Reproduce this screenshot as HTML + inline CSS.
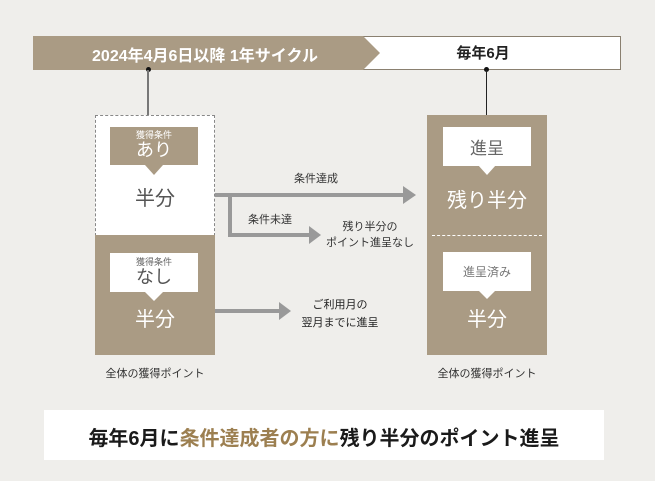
<!DOCTYPE html>
<html><head><meta charset="utf-8"><style>
*{margin:0;padding:0;box-sizing:border-box}
body{width:655px;height:481px;background:#efeeeb;position:relative;overflow:hidden;font-family:"Liberation Sans","Noto Sans CJK JP",sans-serif;color:#333}
.a{position:absolute}
.c{position:absolute;text-align:center;white-space:nowrap}
.br{background:#aa9b84}
.tag{position:absolute;background:#fff;width:88px}
.tri{position:absolute;width:0;height:0;border-left:9px solid transparent;border-right:9px solid transparent}
</style></head><body>
<!-- top bar -->
<div class="a" style="left:33px;top:36px;width:588px;height:34px;background:#fff;border:1px solid #8a8070"></div>
<svg class="a" style="left:33px;top:36px" width="350" height="34"><polygon points="0,0 330,0 347,17 330,34 0,34" fill="#aa9b84"/></svg>
<div class="c" style="left:45px;width:320px;top:42px;font-size:16px;font-weight:bold;color:#fff">2024年4月6日以降 1年サイクル</div>
<div class="c" style="left:383px;width:200px;top:42px;font-size:15px;font-weight:bold;color:#222">毎年6月</div>
<div class="a" style="left:146px;top:67px;width:5px;height:5px;border-radius:50%;background:#111"></div>
<div class="a" style="left:147px;top:70px;width:2px;height:45px;background:#777"></div>
<div class="a" style="left:484px;top:67px;width:5px;height:5px;border-radius:50%;background:#111"></div>
<div class="a" style="left:486px;top:70px;width:1px;height:45px;background:#222"></div>
<!-- left box -->
<div class="a" style="left:95px;top:115px;width:120px;height:121px;background:#fff;border:1px dashed #888;border-bottom:none"></div>
<div class="a br" style="left:95px;top:235px;width:120px;height:120px"></div>
<div class="a br" style="left:110px;top:127px;width:88px;height:38px"></div>
<div class="tri" style="left:145px;top:165px;border-top:10px solid #aa9b84"></div>
<div class="c" style="left:110px;width:88px;top:128px;font-size:9px;color:#fff">獲得条件</div>
<div class="c" style="left:110px;width:88px;top:139px;font-size:18px;color:#fff;line-height:22px">あり</div>
<div class="c" style="left:95px;width:120px;top:182px;font-size:20px;color:#555">半分</div>
<div class="tag" style="left:110px;top:253px;height:39px"></div>
<div class="tri" style="left:145px;top:292px;border-top:9px solid #fff"></div>
<div class="c" style="left:110px;width:88px;top:255px;font-size:9px;color:#666">獲得条件</div>
<div class="c" style="left:110px;width:88px;top:266px;font-size:18px;color:#555;line-height:22px">なし</div>
<div class="c" style="left:95px;width:120px;top:303px;font-size:20px;color:#fff">半分</div>
<div class="c" style="left:95px;width:120px;top:365px;font-size:11px">全体の獲得ポイント</div>
<!-- right box -->
<div class="a br" style="left:427px;top:115px;width:120px;height:240px"></div>
<div class="tag" style="left:443px;top:127px;height:39px"></div>
<div class="tri" style="left:478px;top:165px;border-top:10px solid #fff"></div>
<div class="c" style="left:443px;width:88px;top:134px;font-size:17px;color:#666">進呈</div>
<div class="c" style="left:427px;width:120px;top:184px;font-size:20px;color:#fff">残り半分</div>
<div class="a" style="left:432px;top:235px;width:110px;border-top:1px dashed #fff"></div>
<div class="tag" style="left:443px;top:252px;height:39px"></div>
<div class="tri" style="left:478px;top:290px;border-top:9px solid #fff"></div>
<div class="c" style="left:443px;width:88px;top:263px;font-size:12px;color:#777">進呈済み</div>
<div class="c" style="left:427px;width:120px;top:303px;font-size:20px;color:#fff">半分</div>
<div class="c" style="left:427px;width:120px;top:365px;font-size:11px">全体の獲得ポイント</div>
<!-- arrows -->
<svg class="a" style="left:0;top:0" width="655" height="481">
<g fill="none" stroke="#999" stroke-width="4">
<line x1="215" y1="195" x2="404" y2="195"/>
<polyline points="230,195 230,235 310,235"/>
<line x1="215" y1="311" x2="280" y2="311"/>
</g>
<g fill="#999">
<polygon points="403,186 416,195 403,204"/>
<polygon points="309,226 321,235 309,244"/>
<polygon points="279,302 291,311 279,320"/>
</g>
</svg>
<div class="c" style="left:276px;width:80px;top:170px;font-size:11px">条件達成</div>
<div class="c" style="left:235px;width:70px;top:211px;font-size:11px">条件未達</div>
<div class="c" style="left:310px;width:120px;top:219px;font-size:11px;line-height:16px">残り半分の<br>ポイント進呈なし</div>
<div class="c" style="left:290px;width:100px;top:296px;font-size:11px;line-height:18px;color:#222">ご利用月の<br>翌月までに進呈</div>
<!-- bottom banner -->
<div class="a" style="left:44px;top:410px;width:560px;height:50px;background:#fff"></div>
<div class="c" style="left:44px;width:560px;top:422px;font-size:20px;font-weight:bold;color:#1a1a1a">毎年6月に<span style="color:#9c7f50">条件達成者の方に</span>残り半分のポイント進呈</div>
</body></html>
